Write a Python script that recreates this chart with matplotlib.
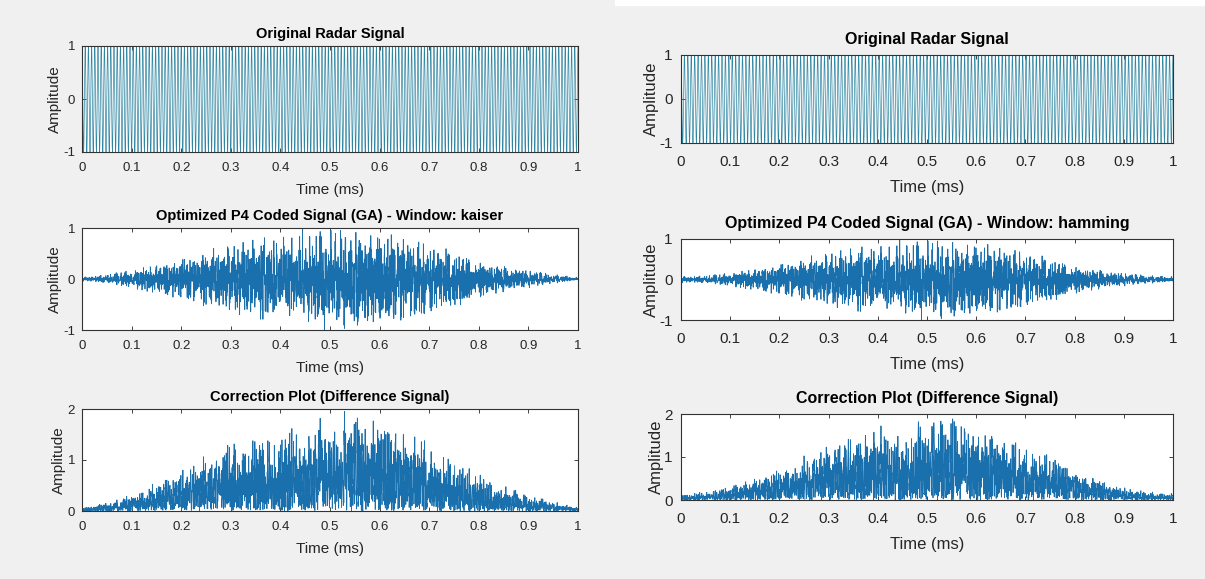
import numpy as np
import matplotlib
matplotlib.use("Agg")
from matplotlib import pyplot as plt
from matplotlib.patches import Rectangle

# time axis of the pulse (ms)
n_fine = 8000      # grid for the carrier plot
n_code = 3000      # grid for the coded pulse
t_fine = np.linspace(0, 1, n_fine)
t_ms = np.linspace(0, 1, n_code)

# signal settings (left = kaiser, right = hamming)
carrier_khz = [155, 144]
kaiser_beta = 5
p4_lengths = [31, 43, 59]
p4_strides = [7, 11, 13]
code_scale = 0.95   # level where the biggest code spikes sit

x_ticks = [0, 0.1, 0.2, 0.3, 0.4, 0.5, 0.6, 0.7, 0.8, 0.9, 1]
amp_ticks = [-1, 0, 1]
diff_ticks = [0, 1, 2]

titles_left = ["Original Radar Signal",
               "Optimized P4 Coded Signal (GA) - Window: kaiser",
               "Correction Plot (Difference Signal)"]
titles_right = ["Original Radar Signal",
                "Optimized P4 Coded Signal (GA) - Window: hamming",
                "Correction Plot (Difference Signal)"]


def p4_code(n, lengths, strides):
    # sum of a few P4 phase codes: phi_m = pi*m^2/M - pi*m
    k = np.arange(n)
    g = np.zeros(n)
    for M, a in zip(lengths, strides):
        m = (k * a) % M
        g = g + np.cos(np.pi * m**2 / M - np.pi * m)
    return g / len(lengths)


code = p4_code(n_code, p4_lengths, p4_strides)
code = code * code_scale / np.percentile(np.abs(code), 99)

windows = [np.kaiser(n_code, kaiser_beta), np.hamming(n_code)]

orig_sig = []
p4_sig = []
diff_sig = []
for i in range(2):
    orig_sig.append(np.cos(2 * np.pi * carrier_khz[i] * t_fine))
    orig = np.cos(2 * np.pi * carrier_khz[i] * t_ms)
    p4 = windows[i] * code
    p4_sig.append(p4)
    diff_sig.append(np.abs(windows[i] * orig - p4))

fig = plt.figure(figsize=(12.05, 5.79), dpi=100, facecolor="#f0f0f0")
fig.patches.append(Rectangle((615 / 1205, 1 - 5 / 579), 1, 5 / 579,
                             transform=fig.transFigure, color="white", zorder=0))

plt.rcParams["font.family"] = ["Liberation Sans", "DejaVu Sans"]

# axes boxes in pixels: left, top, right, bottom
boxes_left = [(82, 46, 578, 152), (82, 228, 578, 330), (82, 409, 578, 511)]
boxes_right = [(681, 55, 1173, 143), (681, 239, 1173, 320), (681, 414, 1173, 500)]

W = 1205.0
H = 579.0


def make_axes(box):
    l, t, r, b = box
    return fig.add_axes([l / W, 1 - b / H, (r - l) / W, (b - t) / H])


def style(ax, title, yticks, sz):
    fs_tick, fs_lab, fs_title, xpad, ypad, xlpad, ylpad, tpad = sz
    ax.set_xlim(0, 1)
    ax.set_ylim(yticks[0], yticks[-1])
    ax.set_xticks(x_ticks)
    ax.set_xticklabels(["%g" % v for v in x_ticks])
    ax.set_yticks(yticks)
    ax.set_yticklabels(["%g" % v for v in yticks])
    ax.tick_params(direction="in", top=True, right=True, length=3,
                   labelsize=fs_tick, colors="#262626", width=0.6)
    ax.tick_params(axis="x", pad=xpad)
    ax.tick_params(axis="y", pad=ypad)
    for s in ax.spines.values():
        s.set_color("#333333")
        s.set_linewidth(0.8)
    ax.set_xlabel("Time (ms)", fontsize=fs_lab, color="#262626", labelpad=xlpad)
    ax.set_ylabel("Amplitude", fontsize=fs_lab, color="#262626", labelpad=ylpad)
    ax.set_title(title, fontsize=fs_title, fontweight="bold", pad=tpad)
    ax.set_facecolor("white")


sizes_left = (9.5, 11, 10.5, 7.5, 5, 6, 1, 6)
sizes_right = (11, 12, 11.5, 8.5, 6, 8, 0, 8)
panels = [(boxes_left, titles_left, sizes_left),
          (boxes_right, titles_right, sizes_right)]

for i, (boxes, titles, sz) in enumerate(panels):
    ax1 = make_axes(boxes[0])
    ax1.plot(t_fine, orig_sig[i], color="#2f86a3", linewidth=0.5)
    style(ax1, titles[0], amp_ticks, sz)

    ax2 = make_axes(boxes[1])
    ax2.plot(t_ms, p4_sig[i], color="#1a70ad", linewidth=0.6)
    style(ax2, titles[1], amp_ticks, sz)

    ax3 = make_axes(boxes[2])
    ax3.plot(t_ms, diff_sig[i], color="#1a70ad", linewidth=0.6)
    style(ax3, titles[2], diff_ticks, sz)

fig.savefig("out.png", dpi=100, facecolor=fig.get_facecolor())
